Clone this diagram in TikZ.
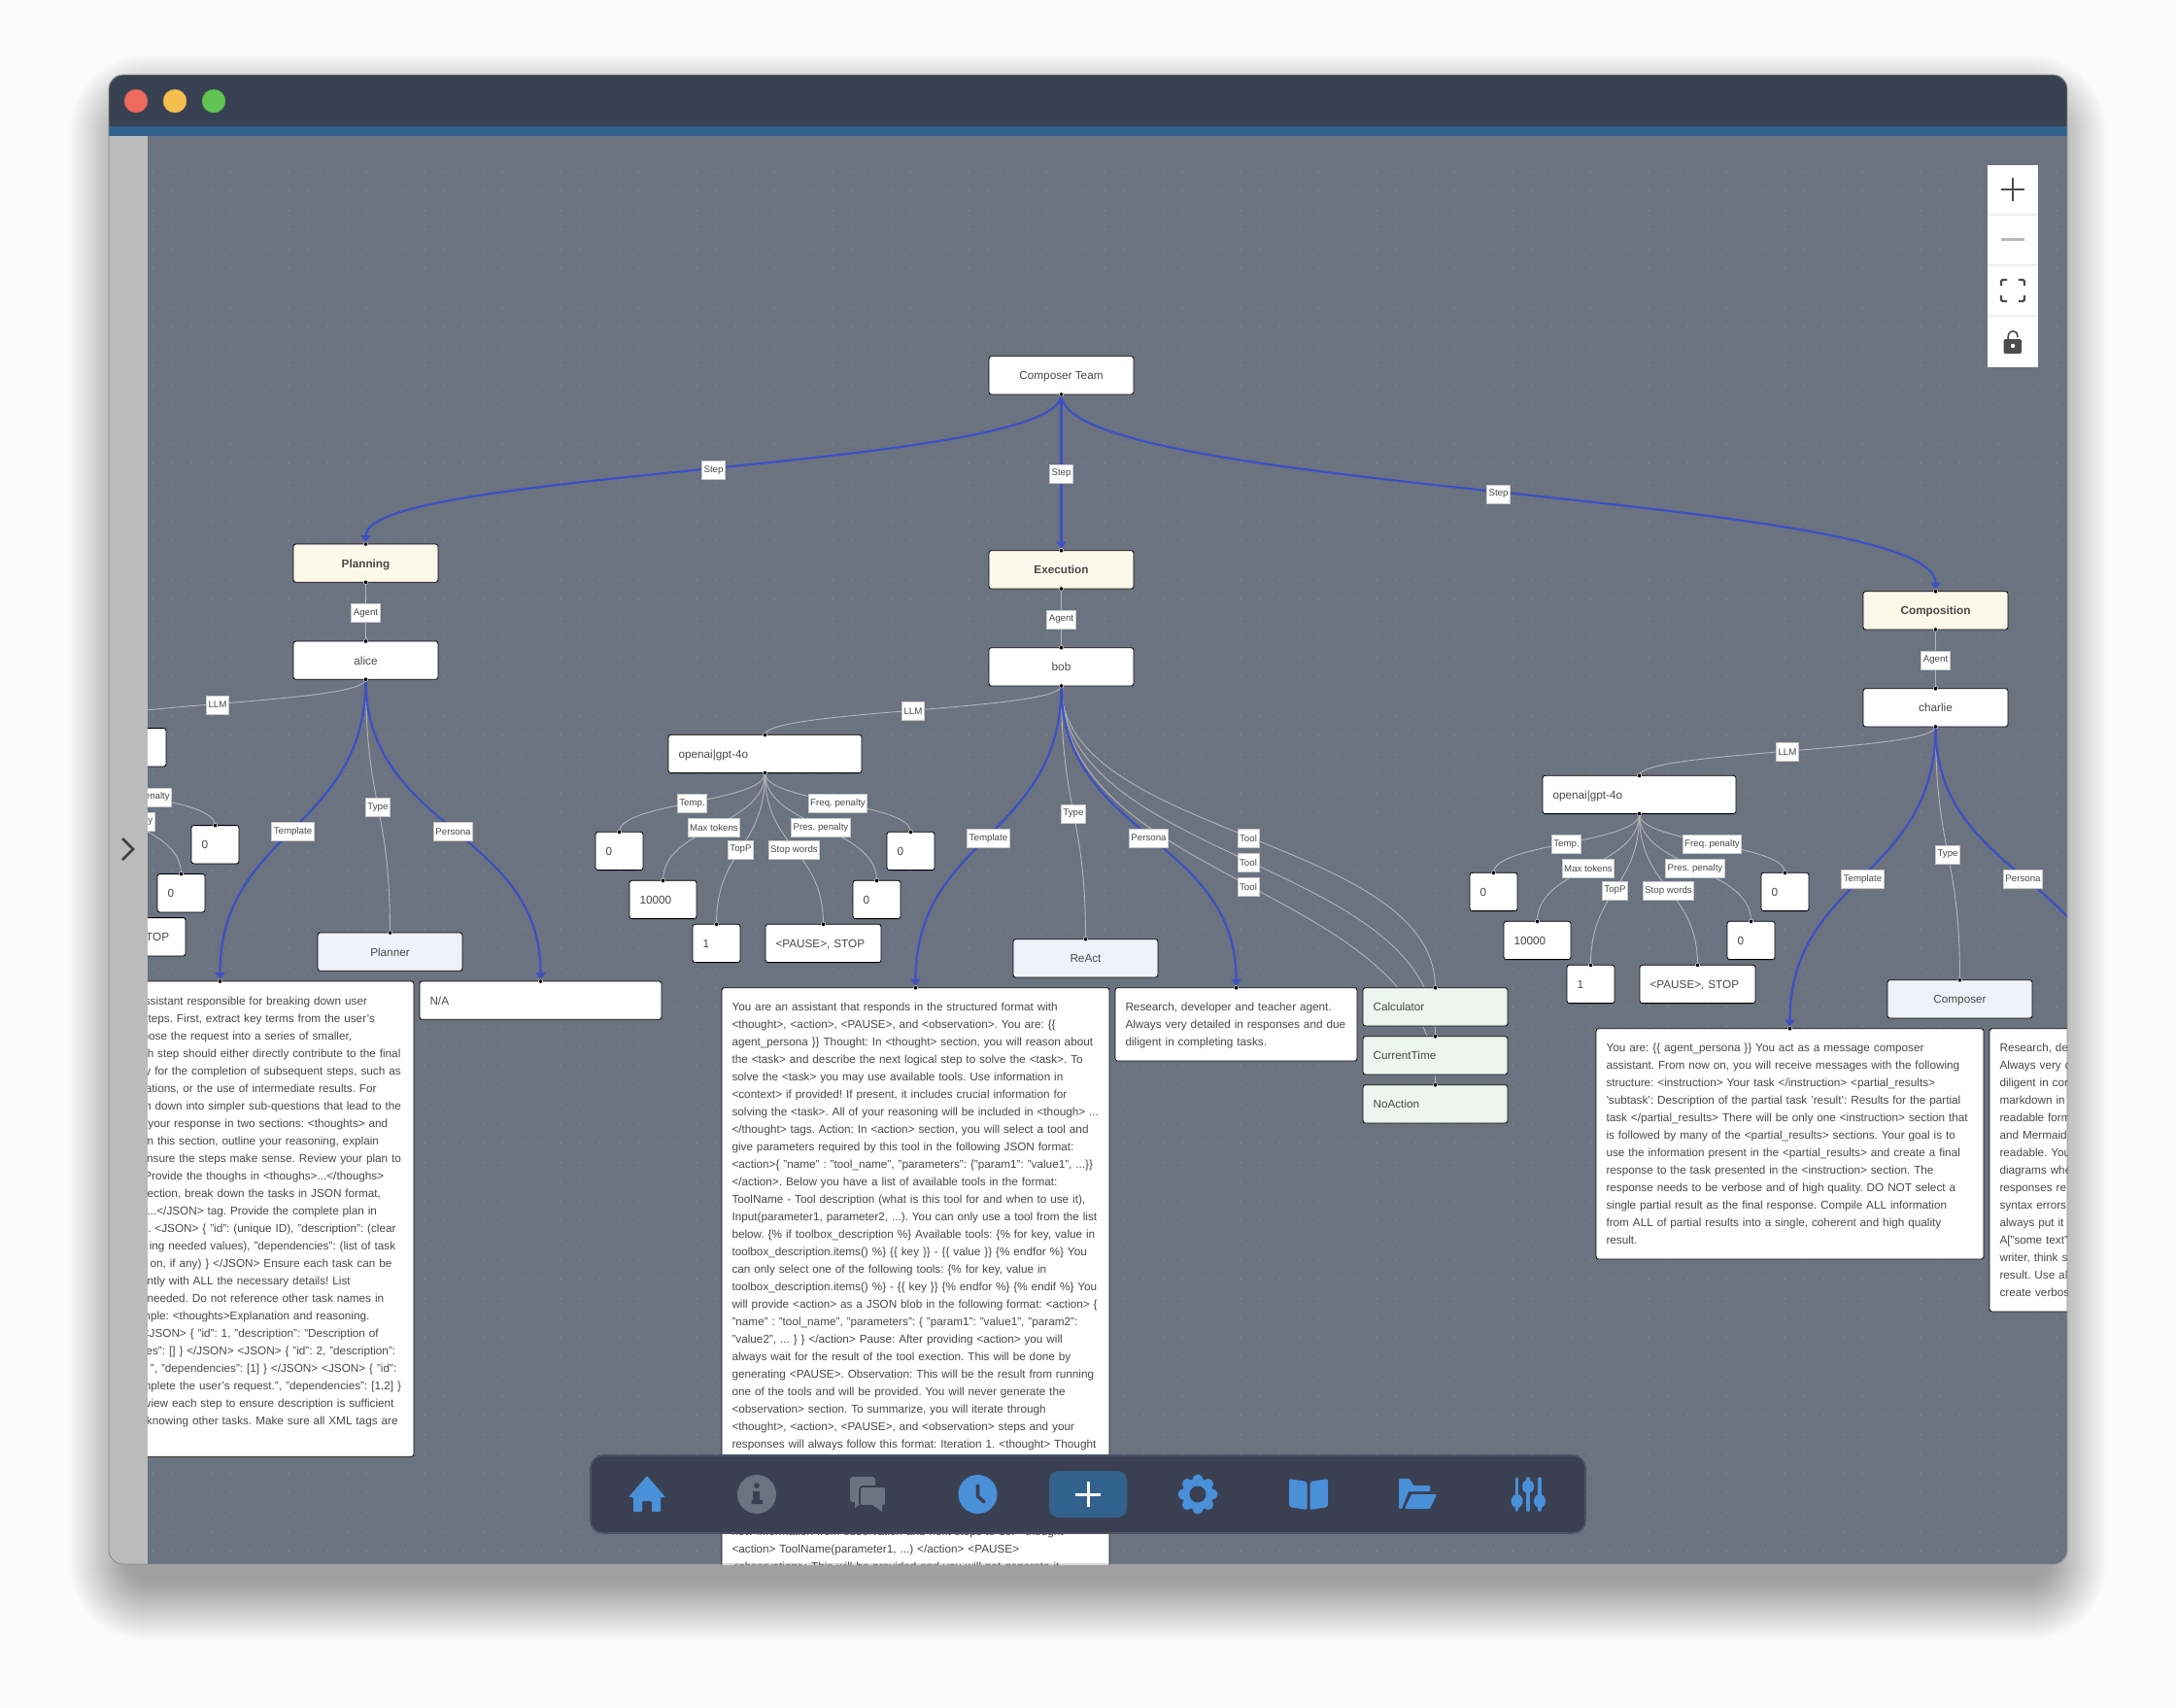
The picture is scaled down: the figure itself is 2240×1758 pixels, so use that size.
\documentclass[tikz,border=0pt]{standalone}
\usepackage{fontspec}
\setmainfont[Ligatures=ResetAll]{Liberation Sans}
\usepackage{xcolor}
\usepackage{tikz}
\usetikzlibrary{arrows.meta, positioning, calc, backgrounds}

\definecolor{canvasgray}{HTML}{6B7280}
\definecolor{griddot}{HTML}{8A909C}
\definecolor{titlebar}{HTML}{374151}
\definecolor{titleband}{HTML}{31618C}
\definecolor{sidegray}{HTML}{BBBBBB}
\definecolor{navbar}{HTML}{3A4052}
\definecolor{navedge}{HTML}{4A5163}
\definecolor{navblue}{HTML}{4A90D9}
\definecolor{navbutton}{HTML}{33618E}
\definecolor{flowblue}{HTML}{3C50C4}
\definecolor{linkgray}{HTML}{B4B5BA}
\definecolor{boxink}{HTML}{484848}
\definecolor{stepfill}{HTML}{FDF9EA}
\definecolor{typefill}{HTML}{EEF3FB}
\definecolor{toolfill}{HTML}{ECF6EE}
\definecolor{lightred}{HTML}{EE6A5F}
\definecolor{lightyellow}{HTML}{F5BF4F}
\definecolor{lightgreen}{HTML}{61C454}

\newcommand{\clipline}[2]{\makebox[#1pt][r]{#2}}

\begin{document}
\begin{tikzpicture}[
    x=1pt, y=-1pt,
    box/.style={rectangle, draw=black, line width=0.8pt, rounded corners=2.5pt, outer sep=0pt, fill=white, text=boxink, minimum width=149pt, minimum height=39.3pt, inner sep=0pt, align=center, font=\fontsize{11.75}{18}\selectfont, execute at begin node=\frenchspacing\rule{0pt}{13.6pt}, execute at end node=\rule[-4.4pt]{0pt}{4.4pt}},
    leftbox/.style={box, minimum width=0pt, inner xsep=10.5pt, inner ysep=10.65pt, text width=#1, align=left},
    stepbox/.style={box, fill=stepfill, font=\fontsize{11.75}{18}\selectfont\bfseries},
    typebox/.style={box, fill=typefill},
    toolbox/.style={leftbox=128pt, fill=toolfill},
    edgelabel/.style={rectangle, draw=black!22, line width=0.8pt, fill=white, text=boxink, inner xsep=2pt, inner ysep=0pt, minimum height=19pt, yshift=-1.2pt, font=\fontsize{9.7}{11}\selectfont\frenchspacing},
    wire/.style={to path={let \p1=(\tikztostart), \p2=(\tikztotarget), \p3=($(\p1)!.5!(\p2)$) in .. controls (\x1,\y3) and (\x2,\y3) .. (\p2) \tikztonodes}},
    link/.style={wire, draw=linkgray, line width=0.9pt},
    flow/.style={wire, draw=flowblue, line width=2.2pt, shorten >=2pt, -{Triangle[width=10pt,length=7pt]}},
    dot/.style={fill=black, draw=white, line width=0.4pt},
    griddots/.style={griddot, line width=1pt, dash pattern=on 1pt off 19pt},
    navicon/.style={fill=navblue, draw=none},
    mutedicon/.style={fill=canvasgray, draw=none},
    controlmark/.style={draw=black!70, line width=2.4pt}
]
    \useasboundingbox (0,0) rectangle (2240,1758);

    % window behind everything
    \begin{scope}[on background layer]
        \fill[white!98!black] (0,0) rectangle (2240,1758);
        \foreach \r in {0,2,...,60}
            \fill[black, opacity=0.012, rounded corners={20pt+\r*1pt}] (132-\r,117-\r) rectangle (2108+\r,1628+\r);
        \begin{scope}
            \clip[rounded corners=15pt] (112,77) rectangle (2128,1610);
            \fill[canvasgray] (112,77) rectangle (2128,1610);
            \fill[titlebar] (112,77) rectangle (2128,130);
            \fill[titleband] (112,130) rectangle (2128,140);
            \foreach \y in {156,176,...,1600}
                \draw[griddots] (157,\y) -- (2128,\y);
        \end{scope}
    \end{scope}

    % graph nodes
    \begin{scope}
    \clip (152,140) rectangle (2128,1610);

    \node[box, anchor=north] (team) at (1092.5,366.7) {Composer Team};
    \node[stepbox, anchor=north] (planning) at (376.5,560) {Planning};
    \node[stepbox, anchor=north] (execution) at (1092.5,566.7) {Execution};
    \node[stepbox, anchor=north] (composition) at (1992.5,608.7) {Composition};

    % planning agent
    \node[box, below=60.7pt of planning] (alice) {alice};
    \node[leftbox=178pt, below=50.3pt of alice, xshift=-305pt] (alicellm) {};
    \node[leftbox=28pt, below=110.7pt of alicellm, xshift=115pt] (alicepres) {0};
    \node[leftbox=28pt, below=60.7pt of alicellm, xshift=150pt] (alicefreq) {0};
    \node[leftbox=98pt, below=155.7pt of alicellm, xshift=60pt] (alicestop) {<PAUSE>, STOP};
    \node[typebox, below=260.7pt of alice, xshift=25pt] (alicetype) {Planner};
    \node[leftbox=378pt, below=310.7pt of alice, xshift=-150pt] (alicetemplate) {%
        \clipline{340.5}{ssistant responsible for breaking down user}\\
        \clipline{348.4}{steps. First, extract key terms from the user's}\\
        \clipline{324.6}{pose the request into a series of smaller,}\\
        \clipline{374.9}{ch step should either directly contribute to the final}\\
        \clipline{375.2}{ry for the completion of subsequent steps, such as}\\
        \clipline{350.1}{lations, or the use of intermediate results. For}\\
        \clipline{375.5}{em down into simpler sub-questions that lead to the}\\
        \clipline{361.8}{e your response in two sections: <thoughts> and}\\
        \clipline{352.5}{In this section, outline your reasoning, explain}\\
        \clipline{375.5}{ensure the steps make sense. Review your plan to}\\
        \clipline{357.7}{Provide the thoughs in <thoughs>...</thoughs>}\\
        \clipline{354.5}{section, break down the tasks in JSON format,}\\
        \clipline{350.5}{...</JSON> tag. Provide the complete plan in}\\
        \clipline{370.1}{. <JSON> \{ "id": (unique ID), "description": (clear}\\
        \clipline{369.7}{ing needed values), "dependencies": (list of task}\\
        \clipline{365.9}{on, if any) \} </JSON> Ensure each task can be}\\
        \clipline{323.2}{ently with ALL the necessary details! List}\\
        \clipline{357.7}{needed. Do not reference other task names in}\\
        \clipline{342.9}{mple: <thoughts>Explanation and reasoning.}\\
        \clipline{352.2}{<JSON> \{ "id": 1, "description": "Description of}\\
        \clipline{369.7}{ies": [] \} </JSON> <JSON> \{ "id": 2, "description":}\\
        \clipline{370.8}{", "dependencies": [1] \} </JSON> <JSON> \{ "id":}\\
        \clipline{375.5}{mplete the user's request.", "dependencies": [1,2] \}}\\
        \clipline{368}{eview each step to ensure description is sufficient}\\
        \clipline{372.1}{knowing other tasks. Make sure all XML tags are}\\
        \mbox{}};
    \node[leftbox=228pt, below=310.7pt of alice, xshift=180pt] (alicepersona) {N/A};

    % execution agent
    \node[box, below=60.7pt of execution] (bob) {bob};
    \node[leftbox=178pt, below=50.3pt of bob, xshift=-305pt] (bobllm) {openai|gpt-4o};
    \node[leftbox=28pt, below=60.7pt of bobllm, xshift=-150pt] (bobtemp) {0};
    \node[leftbox=48pt, below=110.7pt of bobllm, xshift=-105pt] (bobtokens) {10000};
    \node[leftbox=28pt, below=155.7pt of bobllm, xshift=-50pt] (bobtop) {1};
    \node[leftbox=98pt, below=155.7pt of bobllm, xshift=60pt] (bobstop) {<PAUSE>, STOP};
    \node[leftbox=28pt, below=110.7pt of bobllm, xshift=115pt] (bobpres) {0};
    \node[leftbox=28pt, below=60.7pt of bobllm, xshift=150pt] (bobfreq) {0};
    \node[typebox, below=260.7pt of bob, xshift=25pt] (bobtype) {ReAct};
    \node[leftbox=378pt, below=310.7pt of bob, xshift=-150pt] (bobtemplate) {%
        You are an assistant that responds in the structured format with\\
        <thought>, <action>, <PAUSE>, and <observation>. You are: \{\{\\
        agent\_persona \}\} Thought: In <thought> section, you will reason about\\
        the <task> and describe the next logical step to solve the <task>. To\\
        solve the <task> you may use available tools. Use information in\\
        <context> if provided! If present, it includes crucial information for\\
        \mbox{solving the <task>. All of your reasoning will be included in <though> ...}\\
        </thought> tags. Action: In <action> section, you will select a tool and\\
        give parameters required by this tool in the following JSON format:\\
        \mbox{<action>\{ "name" : "tool\_name", "parameters": \{"param1": "value1", ...\}\}}\\
        </action>. Below you have a list of available tools in the format:\\
        ToolName - Tool description (what is this tool for and when to use it),\\
        Input(parameter1, parameter2, ...). You can only use a tool from the list\\
        below. \{\% if toolbox\_description \%\} Available tools: \{\% for key, value in\\
        toolbox\_description.items() \%\} \{\{ key \}\} - \{\{ value \}\} \{\% endfor \%\} You\\
        can only select one of the following tools: \{\% for key, value in\\
        toolbox\_description.items() \%\} - \{\{ key \}\} \{\% endfor \%\} \{\% endif \%\} You\\
        will provide <action> as a JSON blob in the following format: <action> \{\\
        "name" : "tool\_name", "parameters": \{ "param1": "value1", "param2":\\
        "value2", ... \} \} </action> Pause: After providing <action> you will\\
        always wait for the result of the tool exection. This will be done by\\
        generating <PAUSE>. Observation: This will be the result from running\\
        one of the tools and will be provided. You will never generate the\\
        <observation> section. To summarize, you will iterate through\\
        <thought>, <action>, <PAUSE>, and <observation> steps and your\\
        responses will always follow this format: Iteration 1. <thought> Thought\\
        \mbox{}\\ \mbox{}\\ \mbox{}\\ \mbox{}\\
        how information from observation and next steps to do. <thought>\\
        <action> ToolName(parameter1, ...) </action> <PAUSE>\\
        <observation>: This will be provided and you will not generate it.};
    \node[leftbox=228pt, below=310.7pt of bob, xshift=180pt] (bobpersona) {%
        Research, developer and teacher agent.\\
        Always very detailed in responses and due\\
        diligent in completing tasks.};
    \node[toolbox, below=310.7pt of bob, xshift=385pt] (calculator) {Calculator};
    \node[toolbox, below=10.7pt of calculator] (currenttime) {CurrentTime};
    \node[toolbox, below=10.7pt of currenttime] (noaction) {NoAction};

    % composition agent
    \node[box, below=60.7pt of composition] (charlie) {charlie};
    \node[leftbox=178pt, below=50.3pt of charlie, xshift=-305pt] (charliellm) {openai|gpt-4o};
    \node[leftbox=28pt, below=60.7pt of charliellm, xshift=-150pt] (charlietemp) {0};
    \node[leftbox=48pt, below=110.7pt of charliellm, xshift=-105pt] (charlietokens) {10000};
    \node[leftbox=28pt, below=155.7pt of charliellm, xshift=-50pt] (charlietop) {1};
    \node[leftbox=98pt, below=155.7pt of charliellm, xshift=60pt] (charliestop) {<PAUSE>, STOP};
    \node[leftbox=28pt, below=110.7pt of charliellm, xshift=115pt] (charliepres) {0};
    \node[leftbox=28pt, below=60.7pt of charliellm, xshift=150pt] (charliefreq) {0};
    \node[typebox, below=260.7pt of charlie, xshift=25pt] (charlietype) {Composer};
    \node[leftbox=378pt, below=310.7pt of charlie, xshift=-150pt] (charlietemplate) {%
        You are: \{\{ agent\_persona \}\} You act as a message composer\\
        assistant. From now on, you will receive messages with the following\\
        structure: <instruction> Your task </instruction> <partial\_results>\\
        'subtask': Description of the partial task 'result': Results for the partial\\
        task </partial\_results> There will be only one <instruction> section that\\
        is followed by many of the <partial\_results> sections. Your goal is to\\
        use the information present in the <partial\_results> and create a final\\
        response to the task presented in the <instruction> section. The\\
        response needs to be verbose and of high quality. DO NOT select a\\
        single partial result as the final response. Compile ALL information\\
        from ALL of partial results into a single, coherent and high quality\\
        result.};
    \node[leftbox=228pt, below=310.7pt of charlie, xshift=180pt] (charliepersona) {%
        Research, de\\
        Always very d\\
        diligent in com\\
        markdown in\\
        readable form\\
        and Mermaid\\
        readable. You\\
        diagrams whe\\
        responses re\\
        syntax errors\\
        always put it\\
        A["some text"\\
        writer, think s\\
        result. Use al\\
        create verbos};

    % handles on the boxes
    \foreach \n in {team,planning,execution,composition,alice,bob,charlie,alicellm,bobllm,charliellm}
        \draw[dot] (\n.south) circle (2.2pt);
    \foreach \n in {planning,execution,composition,alice,bob,charlie,alicellm,bobllm,charliellm,
        alicepres,alicefreq,alicetype,alicetemplate,alicepersona,
        bobtemp,bobtokens,bobtop,bobstop,bobpres,bobfreq,bobtype,bobtemplate,bobpersona,calculator,currenttime,noaction,
        charlietemp,charlietokens,charlietop,charliestop,charliepres,charliefreq,charlietype,charlietemplate,charliepersona}
        \draw[dot] (\n.north) circle (2.2pt);
    \end{scope}

    % connectors run behind the boxes
    \begin{scope}[on background layer]
    \clip (152,140) rectangle (2128,1610);

    \draw[flow] (team.south) to node[edgelabel] (steplabela) {Step} (planning.north);
    \draw[flow] (team.south) to node[edgelabel] (steplabelb) {Step} (execution.north);
    \draw[flow] (team.south) to node[edgelabel] (steplabelc) {Step} (composition.north);

    \draw[link] (planning.south) to node[edgelabel] (agentlabela) {Agent} (alice.north);
    \draw[link] (alice.south) to node[edgelabel] (llmlabela) {LLM} (alicellm.north);
    \draw[link] (alicellm.south) to node[edgelabel] (preslabela) {Pres. penalty} (alicepres.north);
    \draw[link] (alicellm.south) to node[edgelabel] (freqlabela) {Freq. penalty} (alicefreq.north);
    \draw[link] (alice.south) to node[edgelabel] (typelabela) {Type} (alicetype.north);
    \draw[flow] (alice.south) to node[edgelabel] (templatelabela) {Template} (alicetemplate.north);
    \draw[flow] (alice.south) to node[edgelabel] (personalabela) {Persona} (alicepersona.north);

    \draw[link] (execution.south) to node[edgelabel] (agentlabelb) {Agent} (bob.north);
    \draw[link] (bob.south) to node[edgelabel] (llmlabelb) {LLM} (bobllm.north);
    \draw[link] (bobllm.south) to node[edgelabel] (templabelb) {Temp.} (bobtemp.north);
    \draw[link] (bobllm.south) to node[edgelabel] (tokenslabelb) {Max tokens} (bobtokens.north);
    \draw[link] (bobllm.south) to node[edgelabel] (toplabelb) {TopP} (bobtop.north);
    \draw[link] (bobllm.south) to node[edgelabel] (stoplabelb) {Stop words} (bobstop.north);
    \draw[link] (bobllm.south) to node[edgelabel] (preslabelb) {Pres. penalty} (bobpres.north);
    \draw[link] (bobllm.south) to node[edgelabel] (freqlabelb) {Freq. penalty} (bobfreq.north);
    \draw[link] (bob.south) to node[edgelabel] (typelabelb) {Type} (bobtype.north);
    \draw[link] (bob.south) to node[edgelabel] (toollabela) {Tool} (calculator.north);
    \draw[link] (bob.south) to node[edgelabel] (toollabelb) {Tool} (currenttime.north);
    \draw[link] (bob.south) to node[edgelabel] (toollabelc) {Tool} (noaction.north);
    \draw[flow] (bob.south) to node[edgelabel] (templatelabelb) {Template} (bobtemplate.north);
    \draw[flow] (bob.south) to node[edgelabel] (personalabelb) {Persona} (bobpersona.north);

    \draw[link] (composition.south) to node[edgelabel] (agentlabelc) {Agent} (charlie.north);
    \draw[link] (charlie.south) to node[edgelabel] (llmlabelc) {LLM} (charliellm.north);
    \draw[link] (charliellm.south) to node[edgelabel] (templabelc) {Temp.} (charlietemp.north);
    \draw[link] (charliellm.south) to node[edgelabel] (tokenslabelc) {Max tokens} (charlietokens.north);
    \draw[link] (charliellm.south) to node[edgelabel] (toplabelc) {TopP} (charlietop.north);
    \draw[link] (charliellm.south) to node[edgelabel] (stoplabelc) {Stop words} (charliestop.north);
    \draw[link] (charliellm.south) to node[edgelabel] (preslabelc) {Pres. penalty} (charliepres.north);
    \draw[link] (charliellm.south) to node[edgelabel] (freqlabelc) {Freq. penalty} (charliefreq.north);
    \draw[link] (charlie.south) to node[edgelabel] (typelabelc) {Type} (charlietype.north);
    \draw[flow] (charlie.south) to node[edgelabel] (templatelabelc) {Template} (charlietemplate.north);
    \draw[flow] (charlie.south) to node[edgelabel] (personalabelc) {Persona} (charliepersona.north);
    \end{scope}

    % window chrome
    \begin{scope}
        \clip[rounded corners=15pt] (112,77) rectangle (2128,1610);
        \fill[sidegray] (112,140) rectangle (152,1610);
    \end{scope}
    \draw[black!45, line width=0.8pt, rounded corners=15pt] (112,77) rectangle (2128,1610);
    \draw[black!75, line width=2.6pt] (126,863) -- (137,874) -- (126,885);
    \draw[fill=lightred, draw=lightred!85!black] (140,104) circle (12pt);
    \draw[fill=lightyellow, draw=lightyellow!85!black] (180,104) circle (12pt);
    \draw[fill=lightgreen, draw=lightgreen!85!black] (220,104) circle (12pt);

    % zoom controls
    \fill[white] (2046,170) rectangle (2098,378);
    \foreach \y in {220.7,272.7,324.7}
        \draw[black!7, line width=1.8pt] (2046,\y) -- (2098,\y);
    \draw[controlmark] (2060,195) -- (2084,195) (2072,183) -- (2072,207);
    \draw[controlmark, black!27, line width=3pt] (2060,246.5) -- (2084,246.5);
    \draw[controlmark, line width=2.4pt, rounded corners=1.5pt] (2060,294) |- (2066,288) (2078,288) -| (2084,294)
        (2084,304) |- (2078,310) (2066,310) -| (2060,304);
    \draw[black!70, line width=1.6pt] (2067,349) .. controls (2067,343) and (2069,341) .. (2072,341) .. controls (2076,341) and (2077,344) .. (2077,347);
    \fill[black!70, rounded corners=2pt] (2062.5,349) rectangle (2081,364);
    \fill[white] (2072,356) circle (2.2pt);

    % bottom toolbar
    \draw[fill=navbar, draw=navedge, line width=1.6pt, rounded corners=13pt] (608,1498) rectangle (1632,1578);
    \fill[navicon, rounded corners=1pt] (666,1519) -- (685,1541) -- (680,1541) -- (680,1556) -- (671,1556) -- (671,1545)
        -- (661,1545) -- (661,1556) -- (652,1556) -- (652,1541) -- (647,1541) -- cycle;
    \fill[mutedicon] (779,1538) circle (20pt);
    \fill[navbar] (779,1529) circle (2.8pt) (775,1535) rectangle (782,1545) (773.5,1544) rectangle (785,1548);
    \fill[mutedicon, rounded corners=3pt] (875,1520) rectangle (901,1546);
    \fill[mutedicon] (880,1545) -- (880,1552) -- (890,1545) -- cycle;
    \draw[mutedicon, draw=navbar, line width=1.6pt, rounded corners=3pt] (885,1530) rectangle (912,1550);
    \fill[mutedicon] (898,1549) -- (908,1556) -- (908,1549) -- cycle;
    \fill[navicon] (1006.5,1538) circle (20pt);
    \draw[navbar, line width=3.6pt, line cap=round, line join=round] (1006.5,1529) -- (1006.5,1540) -- (1013,1546);
    \fill[navbutton, rounded corners=10pt] (1080,1514) rectangle (1160,1562);
    \draw[white, line width=3pt] (1107,1538) -- (1133,1538) (1120,1525) -- (1120,1551);
    \fill[navicon] (1233,1538) circle (16pt);
    \foreach \a in {0,45,...,315}
        \fill[navicon] (1233,1538) ++(\a:15pt) circle (5.5pt);
    \fill[navbar] (1233,1538) circle (8.5pt);
    \fill[navicon, rounded corners=2pt] (1327,1522) -- (1345.5,1525) -- (1345.5,1554) -- (1327,1551) -- cycle;
    \fill[navicon, rounded corners=2pt] (1348.5,1525) -- (1367,1522) -- (1367,1551) -- (1348.5,1554) -- cycle;
    \fill[navicon, rounded corners=1pt] (1440,1522) -- (1451,1522) -- (1455,1529) -- (1472,1529) -- (1472,1535) -- (1450,1535) -- (1443,1553) -- (1440,1553) -- cycle;
    \fill[navicon, rounded corners=1pt] (1453,1538) -- (1479,1538) -- (1472,1553) -- (1446,1553) -- cycle;
    \foreach \x/\k in {1561.5/1545,1573/1530,1585/1545} {
        \draw[navblue, line width=3.6pt, line cap=round] (\x,1522) -- (\x,1554);
        \fill[navicon] (\x,\k) ellipse (6pt and 7pt);
    }
\end{tikzpicture}
\end{document}
